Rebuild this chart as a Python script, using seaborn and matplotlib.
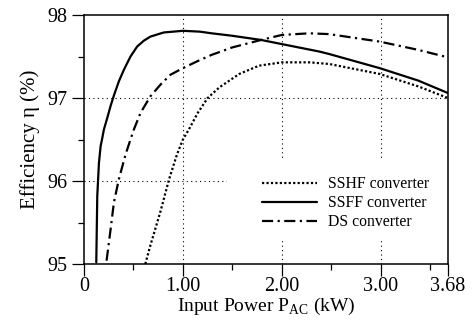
import numpy as np
import matplotlib
matplotlib.use("Agg")
import matplotlib.pyplot as plt
import seaborn as sns
from matplotlib.patches import Rectangle
from matplotlib.ticker import MultipleLocator, FixedLocator

# values (input power in kW, efficiency in %)
p_sshf = [0.62, 0.67, 0.77, 0.86, 0.94, 1.00, 1.06, 1.15, 1.25, 1.37, 1.57, 1.77, 2.00, 2.28, 2.48,
          2.99, 3.38, 3.68]
eta_sshf = [95.00, 95.22, 95.62, 96.02, 96.32, 96.50, 96.62, 96.82, 97.00, 97.13, 97.29, 97.39, 97.43,
            97.43, 97.41, 97.29, 97.14, 97.00]

p_ssff = [0.124, 0.134, 0.151, 0.168, 0.185, 0.201, 0.235, 0.27, 0.302, 0.352, 0.403, 0.47, 0.537, 0.604,
          0.671, 0.806, 1.00, 1.17, 1.29, 1.50, 1.79, 2.00, 2.38, 2.48, 2.99, 3.38, 3.68]
eta_ssff = [95.02, 95.82, 96.22, 96.42, 96.52, 96.62, 96.76, 96.91, 97.03, 97.20, 97.34, 97.50, 97.62,
            97.69, 97.74, 97.79, 97.81, 97.80, 97.78, 97.75, 97.70, 97.65, 97.56, 97.53, 97.36, 97.21, 97.06]

p_ds = [0.228, 0.269, 0.302, 0.352, 0.42, 0.47, 0.504, 0.571, 0.671, 0.772, 0.873, 1.00, 1.14, 1.29, 1.50,
        1.79, 2.00, 2.28, 2.48, 2.99, 3.38, 3.68]
eta_ds = [95.04, 95.42, 95.74, 96.02, 96.32, 96.50, 96.62, 96.82, 97.02, 97.16, 97.28, 97.36, 97.44,
          97.52, 97.61, 97.70, 97.76, 97.78, 97.77, 97.68, 97.58, 97.49]

labels = ["SSHF converter", "SSFF converter", "DS converter"]
x_ticks = [0, 1.0, 2.0, 3.0, 3.68]
x_ticklabels = ["0", "1.00", "2.00", "3.00", "3.68"]
y_ticks = [95, 96, 97, 98]

sns.set_style("ticks")
plt.rcParams["font.family"] = ["Liberation Serif", "DejaVu Serif"]
plt.rcParams["mathtext.fontset"] = "custom"
plt.rcParams["mathtext.rm"] = "Liberation Serif"
plt.rcParams["axes.edgecolor"] = "black"
plt.rcParams["axes.labelcolor"] = "black"
plt.rcParams["text.color"] = "black"
plt.rcParams["xtick.color"] = "black"
plt.rcParams["ytick.color"] = "black"

fig = plt.figure(figsize=(4.72, 3.2), dpi=100)
ax = fig.add_axes([0.178, 0.175, 0.771, 0.778])

sns.lineplot(x=p_sshf, y=eta_sshf, color="black", linewidth=1.6, linestyle=(0, (1, 1)),
             sort=False, label=labels[0], ax=ax, zorder=3)
sns.lineplot(x=p_ssff, y=eta_ssff, color="black", linewidth=1.6, linestyle="-",
             sort=False, label=labels[1], ax=ax, zorder=3)
sns.lineplot(x=p_ds, y=eta_ds, color="black", linewidth=1.6, linestyle=(0, (5, 2, 1, 2)),
             sort=False, label=labels[2], ax=ax, zorder=3)

ax.set_xlim(0, 3.68)
ax.set_ylim(95, 98)

# dotted grid
for gx in [1, 2, 3]:
    ax.axvline(gx, color="black", linewidth=0.8, linestyle=(0, (1, 3)), zorder=1)
for gy in [96, 97]:
    ax.axhline(gy, color="black", linewidth=0.8, linestyle=(0, (1, 3)), zorder=1)

# white box behind the legend hides the grid there
ax.add_patch(Rectangle((0.393, 0.10), 0.607, 0.32, transform=ax.transAxes,
                       facecolor="white", edgecolor="none", zorder=2))

ax.xaxis.set_major_locator(FixedLocator(x_ticks))
ax.set_xticklabels(x_ticklabels)
ax.xaxis.set_minor_locator(FixedLocator([0.5, 1.5, 2.5, 3.5]))
ax.yaxis.set_major_locator(FixedLocator(y_ticks))
ax.yaxis.set_minor_locator(MultipleLocator(0.5))

ax.tick_params(axis="both", which="major", direction="out", length=8.6, width=0.9,
               labelsize=14.5)
ax.tick_params(axis="x", which="major", pad=1.0)
ax.tick_params(axis="y", which="major", pad=3.5)
ax.tick_params(axis="both", which="minor", direction="out", length=4.3, width=0.9)

for s in ax.spines.values():
    s.set_linewidth(1.1)
    s.set_visible(True)

ax.set_xlabel(r"Input Power P$_{\rm AC}$ (kW)", fontsize=14, labelpad=0)
ax.set_ylabel("Efficiency η (%)", fontsize=15, labelpad=5)

leg = ax.legend(loc="upper left", bbox_to_anchor=(0.489, 0.353), frameon=False,
                fontsize=11.3, handlelength=3.5, handletextpad=0.7, labelspacing=0.2,
                borderpad=0, borderaxespad=0)
leg.set_zorder(4)

fig.savefig("out.png", dpi=100)
